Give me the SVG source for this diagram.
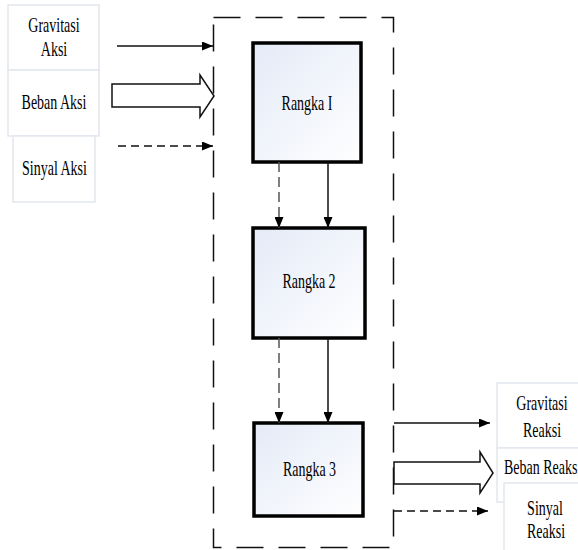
<svg xmlns="http://www.w3.org/2000/svg" width="578" height="550" viewBox="0 0 578 550">
<style>
.lbl{font-family:"Liberation Serif","Times New Roman",serif;font-size:14px;fill:#000;text-anchor:middle}
.ext{fill:#ffffff;stroke:#e2e7ee;stroke-width:1.5}
.blk{fill:url(#g);stroke:#000;stroke-width:3.5}
.ln{stroke:#111;stroke-width:1.5;fill:none}
.dl{stroke:#111;stroke-width:1.5;fill:none;stroke-dasharray:8 5}
.dg{stroke:#555;stroke-width:1.5;fill:none;stroke-dasharray:10 5}
.fat{fill:#fff;stroke:#111;stroke-width:1.5}
</style>
<defs>
<linearGradient id="g" x1="0" y1="0" x2="1" y2="1">
<stop offset="0" stop-color="#e4eaf7"/>
<stop offset="1" stop-color="#ffffff"/>
</linearGradient>
<marker id="ah" markerUnits="userSpaceOnUse" markerWidth="11" markerHeight="9" refX="11" refY="4.5" orient="auto">
<path d="M0,0 L11,4.5 L0,9 z" fill="#000"/>
</marker>
</defs>
<rect width="578" height="550" fill="#fff"/>

<g id="container">
<rect x="213.5" y="17.5" width="180" height="530" fill="none" stroke="#111" stroke-width="1.5" stroke-dasharray="27 15"/>
</g>

<g id="in-gravitasi">
<rect class="ext" x="8" y="5" width="91" height="65"/>
<text class="lbl" transform="translate(54,32) scale(1,1.45)">Gravitasi</text>
<text class="lbl" transform="translate(54,56) scale(1,1.45)">Aksi</text>
</g>
<g id="in-beban">
<rect class="ext" x="8" y="70" width="91" height="66"/>
<text class="lbl" transform="translate(54,109) scale(1,1.45)">Beban Aksi</text>
</g>
<g id="in-sinyal">
<rect class="ext" x="13" y="136" width="82" height="66"/>
<text class="lbl" transform="translate(54.5,175) scale(1,1.45)">Sinyal Aksi</text>
</g>

<g id="rangka1">
<rect class="blk" x="253" y="43" width="108" height="119"/>
<text class="lbl" transform="translate(307,110) scale(1,1.45)">Rangka I</text>
</g>
<g id="rangka2">
<rect class="blk" x="253" y="228" width="112" height="110"/>
<text class="lbl" transform="translate(309,288) scale(1,1.45)">Rangka 2</text>
</g>
<g id="rangka3">
<rect class="blk" x="254" y="423" width="109" height="93"/>
<text class="lbl" transform="translate(309.5,476) scale(1,1.45)">Rangka 3</text>
</g>

<g id="out-gravitasi">
<rect class="ext" x="497" y="383" width="90" height="65"/>
<text class="lbl" transform="translate(542,410) scale(1,1.45)">Gravitasi</text>
<text class="lbl" transform="translate(542,437) scale(1,1.45)">Reaksi</text>
</g>
<g id="out-beban">
<rect class="ext" x="497" y="448" width="90" height="54"/>
<text class="lbl" style="text-anchor:start" transform="translate(504,474) scale(1,1.45)">Beban Reaksi</text>
</g>
<g id="out-sinyal">
<rect class="ext" x="504" y="483" width="84" height="75"/>
<text class="lbl" transform="translate(545,515) scale(1,1.45)">Sinyal</text>
<text class="lbl" transform="translate(546,538) scale(1,1.45)">Reaksi</text>
</g>

<g id="connectors">
<line class="ln" x1="117" y1="46" x2="213" y2="46" marker-end="url(#ah)"/>
<path class="fat" d="M112,84 L200,84 L200,75 L214,96 L200,117 L200,107 L112,107 Z"/>
<line class="dl" x1="118" y1="146" x2="213" y2="146" marker-end="url(#ah)"/>

<line class="dg" x1="279" y1="162" x2="279" y2="228" marker-end="url(#ah)"/>
<line class="ln" x1="328" y1="162" x2="328" y2="228" marker-end="url(#ah)"/>
<line class="dg" x1="279" y1="338" x2="279" y2="423" marker-end="url(#ah)"/>
<line class="ln" x1="328" y1="338" x2="328" y2="423" marker-end="url(#ah)"/>

<line class="ln" x1="394" y1="423" x2="490" y2="423" marker-end="url(#ah)"/>
<path class="fat" d="M394,462 L480,462 L480,452 L493,473 L480,493 L480,484 L394,484 Z"/>
<line class="dl" x1="394" y1="511" x2="488" y2="511" marker-end="url(#ah)"/>
</g>
</svg>
